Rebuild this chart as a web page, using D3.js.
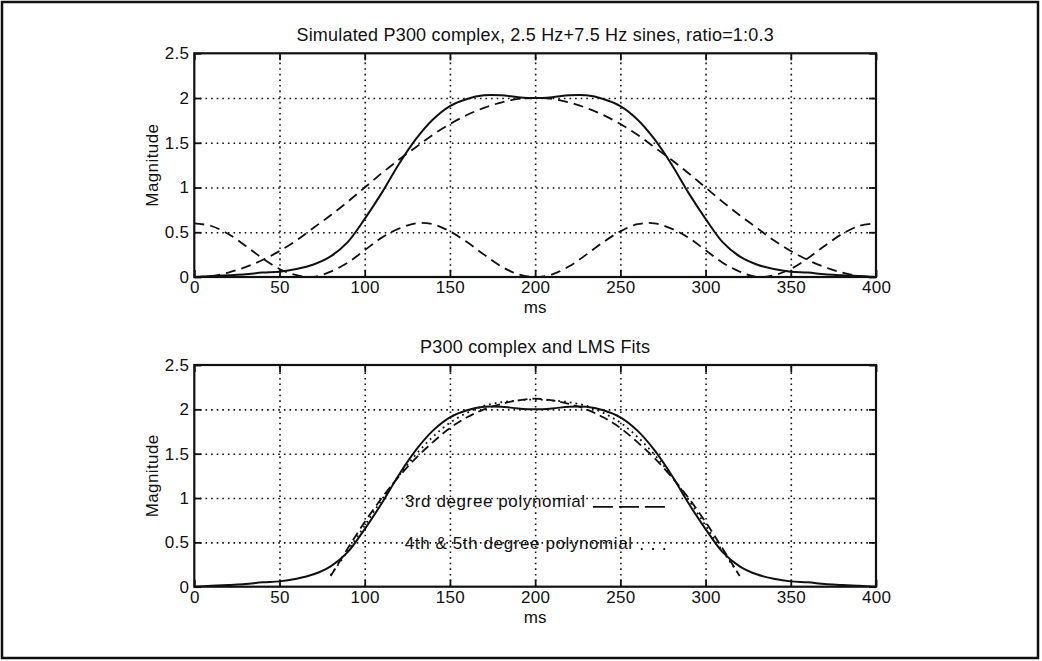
<!DOCTYPE html>
<html>
<head>
<meta charset="utf-8">
<script src="https://cdn.jsdelivr.net/npm/d3@7"></script>
<style>
    body { margin: 0; background: #fff; }
    svg { display: block; }
    text { font-family: "Liberation Sans", Arial, Helvetica, sans-serif; fill: #111; }
</style>
</head>
<body>
<div id="chart"></div>
<script>
const WIDTH = 1042;
const HEIGHT = 661;

// time base (ms) for the simulated signals
const timeMs = [0, 10, 20, 30, 40, 50, 60, 70, 80, 90, 100, 110, 120, 130, 140, 150, 160, 170, 180, 190, 200,
    210, 220, 230, 240, 250, 260, 270, 280, 290, 300, 310, 320, 330, 340, 350, 360, 370, 380, 390, 400];

// P300 complex (solid)
const p300 = [0.00, 0.01, 0.02, 0.03, 0.05, 0.06, 0.09, 0.14, 0.23, 0.39, 0.65, 0.94, 1.26, 1.54, 1.76, 1.91, 1.99, 2.03, 2.03, 2.01, 2.00,
    2.01, 2.03, 2.03, 1.99, 1.91, 1.76, 1.54, 1.26, 0.94, 0.65, 0.39, 0.23, 0.14, 0.09, 0.06, 0.05, 0.03, 0.02, 0.01, 0.00];

// 2.5 Hz component (dashed, large)
const sine25 = [0.00, 0.01, 0.05, 0.11, 0.19, 0.29, 0.41, 0.55, 0.69, 0.84, 1.00, 1.16, 1.31, 1.45, 1.59, 1.71, 1.81, 1.89, 1.95, 1.99, 2.00,
    1.99, 1.95, 1.89, 1.81, 1.71, 1.59, 1.45, 1.31, 1.16, 1.00, 0.84, 0.69, 0.55, 0.41, 0.29, 0.19, 0.11, 0.05, 0.01, 0.00];

// 7.5 Hz component (dashed, small)
const sine75 = [0.60, 0.57, 0.48, 0.35, 0.21, 0.09, 0.02, 0.00, 0.06, 0.16, 0.30, 0.44, 0.54, 0.60, 0.59, 0.51, 0.39, 0.25, 0.12, 0.03, 0.00,
    0.03, 0.12, 0.25, 0.39, 0.51, 0.59, 0.60, 0.54, 0.44, 0.30, 0.16, 0.06, 0.00, 0.02, 0.09, 0.21, 0.35, 0.48, 0.57, 0.60];

// LMS fits, only over 80..320 ms
const fitTimeMs = [80, 90, 100, 110, 120, 130, 140, 150, 160, 170, 180, 190, 200,
    210, 220, 230, 240, 250, 260, 270, 280, 290, 300, 310, 320];

const fit3rd = [0.12, 0.43, 0.73, 1.00, 1.24, 1.45, 1.63, 1.79, 1.91, 2.00, 2.06, 2.10, 2.12,
    2.10, 2.06, 2.00, 1.91, 1.79, 1.63, 1.45, 1.24, 1.00, 0.73, 0.43, 0.12];

const fit45th = [0.13, 0.40, 0.69, 0.98, 1.25, 1.49, 1.69, 1.85, 1.96, 2.04, 2.08, 2.10, 2.11,
    2.10, 2.08, 2.04, 1.96, 1.85, 1.69, 1.49, 1.25, 0.98, 0.69, 0.40, 0.13];

const xTicks = [0, 50, 100, 150, 200, 250, 300, 350, 400];
const yTicks = [0, 0.5, 1, 1.5, 2, 2.5];

const AXIS_LEFT = 194.3;
const AXIS_RIGHT = 876;
const FONT = 17;

const svg = d3.select("#chart").append("svg")
    .attr("width", WIDTH)
    .attr("height", HEIGHT);

svg.append("rect")
    .attr("x", 2).attr("y", 2)
    .attr("width", 1036).attr("height", 656)
    .attr("fill", "#fff")
    .attr("stroke", "#111")
    .attr("stroke-width", 2.5);

const x = d3.scaleLinear().domain([0, 400]).range([AXIS_LEFT, AXIS_RIGHT]);

function drawPanel(id, top, bottom, title, lines, legend) {

    const y = d3.scaleLinear().domain([0, 2.5]).range([bottom, top]);
    const g = svg.append("g").attr("class", "panel");
    const h = bottom - top;
    const w = AXIS_RIGHT - AXIS_LEFT;

    svg.append("clipPath").attr("id", "clip" + id)
        .append("rect")
        .attr("x", AXIS_LEFT).attr("y", top)
        .attr("width", w).attr("height", h);

    // dotted grid
    g.append("g")
        .attr("transform", "translate(0," + bottom + ")")
        .call(d3.axisBottom(x).tickValues(xTicks.slice(1, -1)).tickSize(-h).tickFormat(""))
        .call(a => a.select(".domain").remove())
        .selectAll("line")
        .attr("stroke", "#111")
        .attr("stroke-width", 1.6)
        .attr("stroke-dasharray", "1.6,4");

    g.append("g")
        .attr("transform", "translate(" + AXIS_LEFT + ",0)")
        .call(d3.axisLeft(y).tickValues(yTicks.slice(1, -1)).tickSize(-w).tickFormat(""))
        .call(a => a.select(".domain").remove())
        .selectAll("line")
        .attr("stroke", "#111")
        .attr("stroke-width", 1.6)
        .attr("stroke-dasharray", "1.6,4");

    // curves
    const plot = g.append("g").attr("clip-path", "url(#clip" + id + ")");

    lines.forEach(s => {
        const line = d3.line()
            .x((d, i) => x(s.t[i]))
            .y(d => y(d))
            .curve(d3.curveCatmullRom.alpha(0.5));

        plot.append("path")
            .datum(s.values)
            .attr("fill", "none")
            .attr("stroke", "#111")
            .attr("stroke-width", s.width || 1.8)
            .attr("stroke-dasharray", s.dash || null)
            .attr("d", line);
    });

    // box
    g.append("rect")
        .attr("x", AXIS_LEFT).attr("y", top)
        .attr("width", w).attr("height", h)
        .attr("fill", "none")
        .attr("stroke", "#111")
        .attr("stroke-width", 2.2);

    // axes with inside ticks
    const xAxis = g.append("g")
        .attr("transform", "translate(0," + bottom + ")")
        .call(d3.axisBottom(x).tickValues(xTicks).tickSizeInner(-7).tickSizeOuter(0).tickPadding(4));

    const yAxis = g.append("g")
        .attr("transform", "translate(" + AXIS_LEFT + ",0)")
        .call(d3.axisLeft(y).tickValues(yTicks).tickSizeInner(-7).tickSizeOuter(0).tickPadding(5)
            .tickFormat(d => String(d)));

    g.append("g")
        .attr("transform", "translate(0," + top + ")")
        .call(d3.axisTop(x).tickValues(xTicks).tickSizeInner(-7).tickSizeOuter(0).tickFormat(""));

    g.append("g")
        .attr("transform", "translate(" + AXIS_RIGHT + ",0)")
        .call(d3.axisRight(y).tickValues(yTicks).tickSizeInner(-7).tickSizeOuter(0).tickFormat(""));

    g.selectAll(".domain").remove();
    g.selectAll(".tick line").filter(function() { return !this.getAttribute("stroke-dasharray"); })
        .attr("stroke", "#111")
        .attr("stroke-width", 1.8);

    [xAxis, yAxis].forEach(a => {
        a.attr("font-size", null).attr("font-family", null);
        a.selectAll("text")
            .style("font-size", FONT + "px")
            .style("letter-spacing", "0.3px")
            .attr("fill", "#111");
    });

    // labels
    g.append("text")
        .attr("x", (AXIS_LEFT + AXIS_RIGHT) / 2)
        .attr("y", top - 12)
        .attr("text-anchor", "middle")
        .style("font-size", "18px")
        .style("letter-spacing", "0.2px")
        .text(title);

    g.append("text")
        .attr("x", (AXIS_LEFT + AXIS_RIGHT) / 2)
        .attr("y", bottom + 36)
        .attr("text-anchor", "middle")
        .style("font-size", FONT + "px")
        .text("ms");

    g.append("text")
        .attr("transform", "translate(158," + (top + h / 2) + ") rotate(-90)")
        .attr("text-anchor", "middle")
        .style("font-size", FONT + "px")
        .style("letter-spacing", "0.4px")
        .text("Magnitude");

    if (legend) {
        legend.forEach(item => {
            g.append("text")
                .attr("x", x(item.t))
                .attr("y", y(item.v))
                .style("font-size", FONT + "px")
                .style("letter-spacing", "0.6px")
                .text(item.label);

            g.append("line")
                .attr("x1", x(item.from)).attr("x2", x(item.to))
                .attr("y1", y(item.v)).attr("y2", y(item.v))
                .attr("stroke", "#111")
                .attr("stroke-width", item.width)
                .attr("stroke-dasharray", item.dash);
        });
    }
}

drawPanel("top", 53.3, 277,
    "Simulated P300 complex, 2.5 Hz+7.5 Hz sines, ratio=1:0.3",
    [
        { t: timeMs, values: sine75, dash: "10,6" },
        { t: timeMs, values: sine25, dash: "10,6" },
        { t: timeMs, values: p300, width: 2 }
    ]);

drawPanel("bottom", 365, 586.7,
    "P300 complex and LMS Fits",
    [
        { t: fitTimeMs, values: fit45th, dash: "1.8,4", width: 1.8 },
        { t: fitTimeMs, values: fit3rd, dash: "9,5" },
        { t: timeMs, values: p300, width: 2 }
    ],
    [
        { label: "3rd degree polynomial", t: 123.5, v: 0.9, from: 233.9, to: 277.4, dash: "20,6", width: 1.6 },
        { label: "4th & 5th degree polynomial", t: 123.5, v: 0.425, from: 262, to: 277, dash: "1.8,9.5", width: 2 }
    ]);
</script>
</body>
</html>
